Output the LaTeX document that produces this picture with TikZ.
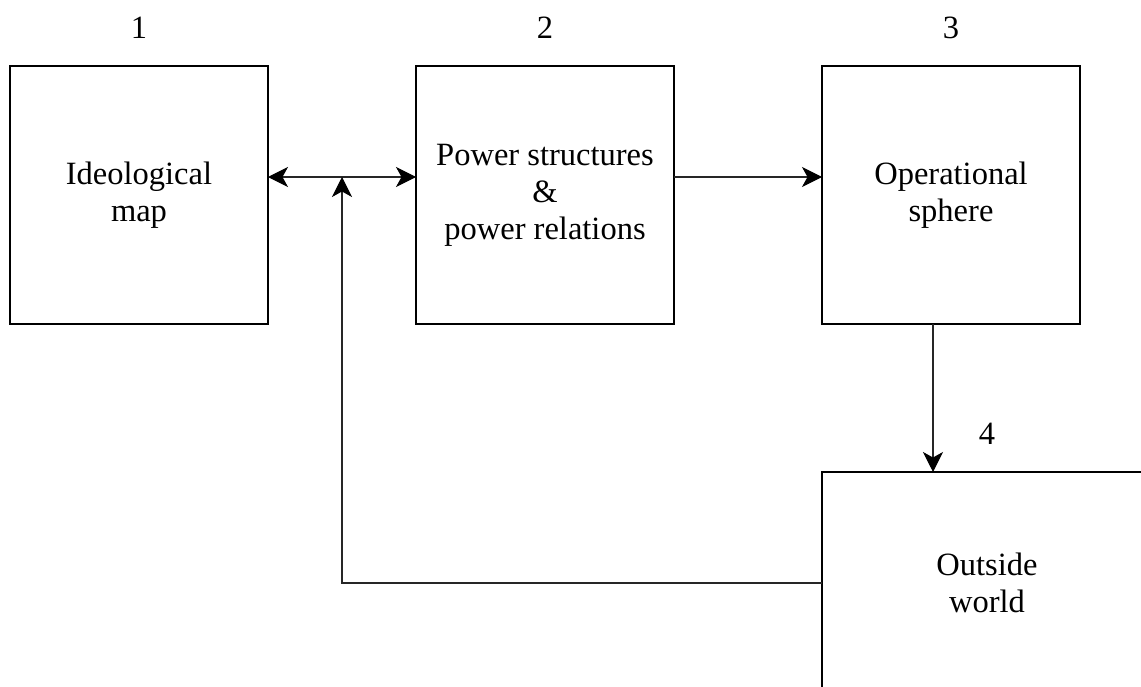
\documentclass[tikz,border=0pt]{standalone}
\usepackage{fontspec}
\setmainfont{Liberation Serif}
\usetikzlibrary{shapes,arrows.meta,positioning,calc}

\begin{document}
\begin{tikzpicture}
            % Styles
            \tikzstyle{block}=[draw, rectangle, line width=0.6pt, minimum height=5.16cm, minimum width=5.16cm, outer sep=0pt, align=center, font=\fontsize{18.5}{21}\selectfont]
            \tikzstyle{number}=[inner sep=0pt, font=\fontsize{18.5}{21}\selectfont]
            \tikzstyle{arrow}=[-{Stealth[length=4mm, width=4mm, inset=1.1mm, black]}, line width=0.6pt, black!85]
            \tikzstyle{twoway}=[{Stealth[length=4mm, width=4mm, inset=1.1mm, black]}-{Stealth[length=4mm, width=4mm, inset=1.1mm, black]}, line width=0.6pt, black!85]

            \useasboundingbox (0,0) rectangle (22.82,-13.74);

            % Nodes
            \node[block] (ideological) at (2.78,-3.9) {Ideological\\map};
            \node[block, right=2.96cm of ideological] (power) {Power structures\\\&\\power relations};
            \node[block, right=2.96cm of power] (operational) {Operational\\sphere};
            \node[block, minimum width=6.6cm, minimum height=4.44cm, below=2.96cm of operational.south west, anchor=north west] (outside) {Outside\\world};

            \node[number, above=0.54cm of ideological] (one) {1};
            \node[number, above=0.54cm of power] (two) {2};
            \node[number, above=0.54cm of operational] (three) {3};
            \node[number, above=0.54cm of outside] (four) {4};

            \coordinate (left) at ([yshift=-2.22cm]ideological.north east);
            \coordinate (right) at ([yshift=-2.22cm]power.north west);
            \coordinate (mid) at ($(left)!0.5!(right)$);

            % Arrows
            \draw[twoway] (left) -- (right);
            \draw[arrow] ([yshift=-2.22cm]power.north east) -- ([yshift=-2.22cm]operational.north west);
            \draw[arrow] ([xshift=2.22cm]operational.south west) -- ([xshift=2.22cm]outside.north west);
            \draw[arrow] (outside.west) -| (mid);
\end{tikzpicture}
\end{document}
